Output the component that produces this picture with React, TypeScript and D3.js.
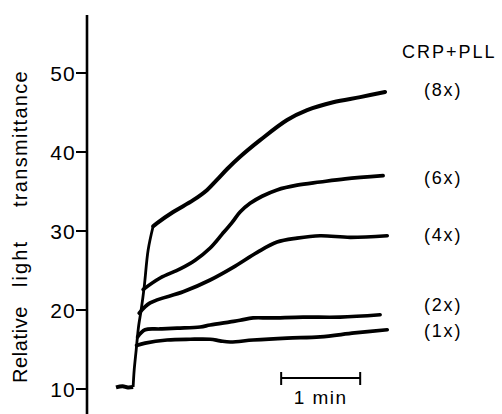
import React from "react";
import * as d3 from "d3";

type P = [number, number];

// time in seconds (0 = addition), value = relative light transmittance
const baseline: P[] = [[-13, 10.2], [-8, 10.35], [-4, 10.2], [0, 10.25]];
const rise: P[] = [[0, 10.25], [0.8, 12.4], [2.3, 14.9], [4.2, 18.0], [6.1, 20.0], [8.4, 22.9], [11.4, 27.6], [15.2, 30.6]];

const s8x: P[] = [[15.2, 30.6], [18.2, 31.0], [30.4, 32.4], [45.6, 33.9], [56.2, 35.2], [63.8, 36.5], [71.4, 37.85], [81.2, 39.4], [96.4, 41.5], [116.9, 44.05], [132.1, 45.3], [151.9, 46.3], [172.4, 46.95], [191.3, 47.6]];
const s6x: P[] = [[7.6, 22.6], [20.5, 24.05], [35.7, 25.2], [47.1, 26.3], [58.5, 27.85], [67.6, 29.6], [75.2, 31.1], [81.2, 32.4], [88.8, 33.5], [97.9, 34.4], [109.3, 35.2], [124.5, 35.8], [142.0, 36.2], [161.0, 36.6], [189.8, 37.0]];
const s4x: P[] = [[4.6, 19.6], [12.9, 20.9], [38.0, 22.3], [58.5, 23.8], [75.9, 25.4], [94.2, 27.3], [109.3, 28.6], [124.5, 29.1], [142.0, 29.4], [164.8, 29.2], [192.9, 29.4]];
const s2x: P[] = [[3.4, 16.6], [9.1, 17.5], [20.5, 17.6], [33.4, 17.7], [50.9, 17.85], [58.5, 18.1], [73.7, 18.5], [81.2, 18.7], [91.1, 19.0], [104, 19.0], [129.1, 19.1], [157.2, 19.1], [187.5, 19.4]];
const s1x: P[] = [[2.6, 15.5], [9.1, 15.8], [25.8, 16.2], [43.3, 16.3], [58.5, 16.3], [66.0, 16.1], [73.7, 15.95], [91.1, 16.2], [116.9, 16.45], [142, 16.6], [168.1, 17.1], [192.9, 17.5]];

const seriesData = [s8x, s6x, s4x, s2x, s1x];
const seriesLabels = ["(8x)", "(6x)", "(4x)", "(2x)", "(1x)"];
const labelValues = [48.0, 36.8, 29.6, 20.8, 17.5];
const yTicks = [10, 20, 30, 40, 50];
const yLabelWords = ["Relative", "light", "transmittance"];
const scaleBarStart = 112.4; // seconds
const scaleBarLength = 60; // 1 min

export default function App() {
  const x = d3.scaleLinear().domain([-13, 192]).range([116, 386]);
  const y = d3.scaleLinear().domain([10, 50]).range([389, 73]);
  const line = d3
    .line<P>()
    .x((d) => x(d[0]))
    .y((d) => y(d[1]))
    .curve(d3.curveCatmullRom.alpha(0.5));
  const font = "'Liberation Sans', Arial, Helvetica, sans-serif";
  const axisX = 87;
  const sbX0 = x(scaleBarStart);
  const sbX1 = x(scaleBarStart + scaleBarLength);
  const sbY = 378;
  const wordPos = [-383, -287, -207];
  const wordSpacing = [0.6, 2.1, 1.3];

  return (
    <svg
      width={502}
      height={414}
      viewBox="0 0 502 414"
      style={{ position: "absolute", left: 0, top: 0, background: "#fff" }}
      fontFamily={font}
    >
      <rect x={0} y={0} width={502} height={414} fill="#fff" />
      {/* y axis */}
      <line x1={axisX} x2={axisX} y1={15} y2={414} stroke="#000" strokeWidth={2.6} />
      {yTicks.map((t) => (
        <g key={t}>
          <line x1={76} x2={axisX} y1={y(t)} y2={y(t)} stroke="#000" strokeWidth={2} />
          <text x={76} y={y(t) + 8} textAnchor="end" fontSize={21} letterSpacing={1.2} fill="#000">
            {t}
          </text>
        </g>
      ))}
      <g transform="translate(27,0) rotate(-90)">
        <text fontSize={20} fill="#000">
          {yLabelWords.map((w, i) => (
            <tspan key={w} x={wordPos[i]} letterSpacing={wordSpacing[i]}>
              {w}
            </tspan>
          ))}
        </text>
      </g>

      {/* traces */}
      <path d={line(baseline) || ""} fill="none" stroke="#000" strokeWidth={4} strokeLinejoin="round" />
      <path d={line(rise) || ""} fill="none" stroke="#000" strokeWidth={2.8} strokeLinejoin="round" />
      {seriesData.map((s, i) => (
        <path
          key={i}
          d={line(s) || ""}
          fill="none"
          stroke="#000"
          strokeWidth={i === 0 ? 4 : 3.7}
          strokeLinejoin="round"
          strokeLinecap="round"
        />
      ))}

      {/* legend */}
      <text x={402} y={58} fontSize={18} letterSpacing={2} fill="#000">
        CRP+PLL
      </text>
      {seriesLabels.map((l, i) => (
        <text key={l} x={424} y={y(labelValues[i]) + 7} fontSize={18} letterSpacing={1.8} fill="#000">
          {l}
        </text>
      ))}

      {/* scale bar */}
      <line x1={sbX0} x2={sbX1} y1={sbY} y2={sbY} stroke="#000" strokeWidth={1.8} />
      <line x1={sbX0} x2={sbX0} y1={sbY - 6} y2={sbY + 7} stroke="#000" strokeWidth={2} />
      <line x1={sbX1} x2={sbX1} y1={sbY - 6} y2={sbY + 7} stroke="#000" strokeWidth={2} />
      <text x={(sbX0 + sbX1) / 2} y={404} textAnchor="middle" fontSize={19} letterSpacing={1.5} fill="#000">
        1 min
      </text>
    </svg>
  );
}
